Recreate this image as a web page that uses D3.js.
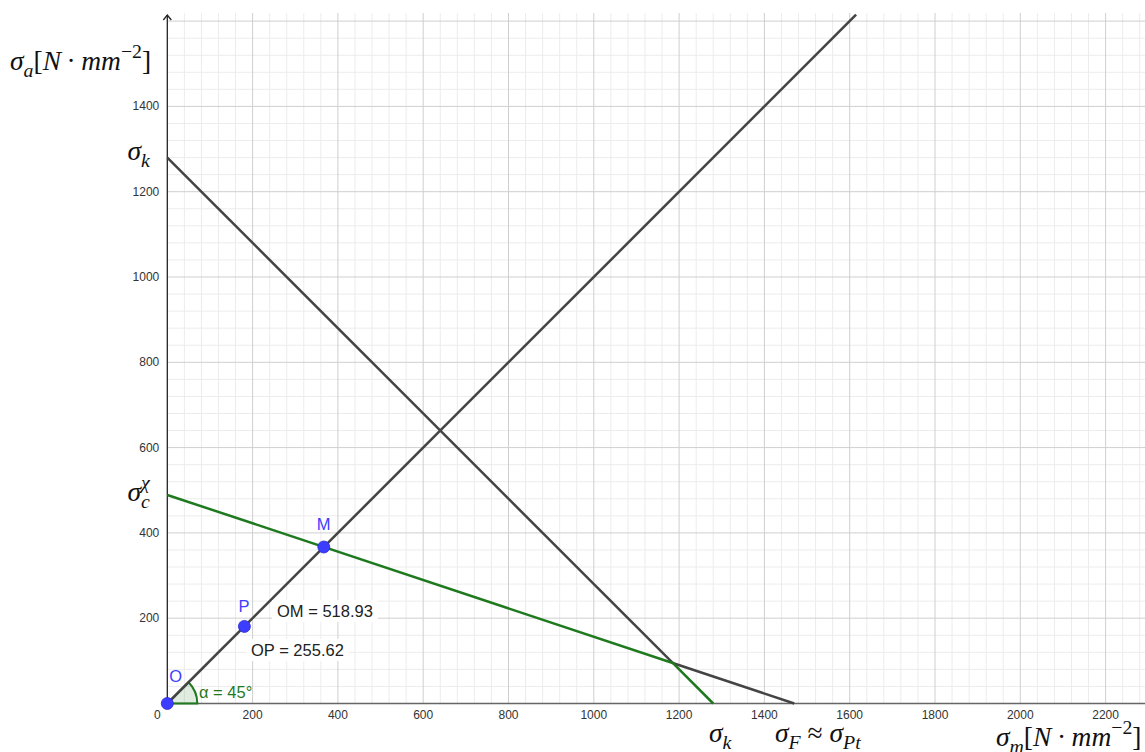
<!DOCTYPE html>
<html>
<head>
<meta charset="utf-8">
<script src="https://cdn.jsdelivr.net/npm/d3@7"></script>
<style>
  html, body { margin: 0; padding: 0; background: #fff; }
  svg { display: block; }
</style>
</head>
<body>
<div id="chart"></div>
<script>
// values
var xTicks = [200, 400, 600, 800, 1000, 1200, 1400, 1600, 1800, 2000, 2200];
var yTicks = [200, 400, 600, 800, 1000, 1200, 1400];
var diagonal = [[0, 0], [1615, 1615]];
var sigmaKLine = [[0, 1280], [1185, 95]];
var sigmaFLine = [[1185, 95], [1470, 0]];
var greenLine = [[0, 489], [1185, 95], [1280, 0]];
var points = [
    {name: "O", x: 0, y: 0},
    {name: "P", x: 180.75, y: 180.75},
    {name: "M", x: 366.94, y: 366.94}
];
var lengthLabels = ["OM = 518.93", "OP = 255.62"];
var angleLabel = "α = 45°";

function init(){
    var w = 1145;
    var h = 752;
    var k = 0.4265;      // px per unit
    var ox = 167.3, oy = 703.5;
    var topY = 13;

    var xScale = d3.scaleLinear()
                    .domain([-ox / k, (w - ox) / k])
                    .range([0, w]);
    var yScale = d3.scaleLinear()
                    .domain([-(h - oy) / k, oy / k])
                    .range([h, 0]);

    var svg = d3.select("#chart")
            .append("svg")
            .attr("width", w)
            .attr("height", h);

    var xMax = xScale.invert(w), yMax = yScale.invert(topY);

    // minor grid
    var minorX = d3.range(40, xMax, 40).filter(function(v){ return v % 200 !== 0; });
    var minorY = d3.range(40, yMax, 40).filter(function(v){ return v % 200 !== 0; });
    var majorX = d3.range(200, xMax, 200);
    var majorY = d3.range(200, yMax, 200);

    var grid = svg.append("g").attr("class", "grid");
    grid.selectAll(".vminor").data(minorX).enter().append("line")
        .attr("x1", function(d){ return xScale(d); }).attr("x2", function(d){ return xScale(d); })
        .attr("y1", topY).attr("y2", yScale(0))
        .attr("stroke", "#ececec").attr("stroke-width", 1);
    grid.selectAll(".hminor").data(minorY).enter().append("line")
        .attr("y1", function(d){ return yScale(d); }).attr("y2", function(d){ return yScale(d); })
        .attr("x1", xScale(0)).attr("x2", w)
        .attr("stroke", "#ececec").attr("stroke-width", 1);
    grid.selectAll(".vmajor").data(majorX).enter().append("line")
        .attr("x1", function(d){ return xScale(d); }).attr("x2", function(d){ return xScale(d); })
        .attr("y1", topY).attr("y2", yScale(0))
        .attr("stroke", "#cfcfcf").attr("stroke-width", 1);
    grid.selectAll(".hmajor").data(majorY).enter().append("line")
        .attr("y1", function(d){ return yScale(d); }).attr("y2", function(d){ return yScale(d); })
        .attr("x1", xScale(0)).attr("x2", w)
        .attr("stroke", "#cfcfcf").attr("stroke-width", 1);

    // axes
    svg.append("line")
        .attr("x1", xScale(0)).attr("x2", w)
        .attr("y1", yScale(0)).attr("y2", yScale(0))
        .attr("stroke", "#666").attr("stroke-width", 1.5);
    svg.append("line")
        .attr("x1", xScale(0)).attr("x2", xScale(0))
        .attr("y1", yScale(0)).attr("y2", 15)
        .attr("stroke", "#222").attr("stroke-width", 1.3);
    svg.append("path")
        .attr("d", "M" + (xScale(0) - 4) + ",20 L" + xScale(0) + ",15 L" + (xScale(0) + 4) + ",20")
        .attr("fill", "none").attr("stroke", "#222").attr("stroke-width", 1.3);

    // tick labels
    svg.selectAll(".xlab").data(xTicks).enter().append("text")
        .attr("x", function(d){ return xScale(d); })
        .attr("y", yScale(0) + 15)
        .attr("text-anchor", "middle")
        .attr("font-family", "Liberation Sans, Arial, sans-serif")
        .attr("font-size", "12px")
        .attr("fill", "#333")
        .text(function(d){ return d; });
    svg.append("text")
        .attr("x", xScale(0) - 10).attr("y", yScale(0) + 15)
        .attr("text-anchor", "middle")
        .attr("font-family", "Liberation Sans, Arial, sans-serif")
        .attr("font-size", "12px").attr("fill", "#333")
        .text("0");
    svg.selectAll(".ylab").data(yTicks).enter().append("text")
        .attr("x", xScale(0) - 8)
        .attr("y", function(d){ return yScale(d) + 4; })
        .attr("text-anchor", "end")
        .attr("font-family", "Liberation Sans, Arial, sans-serif")
        .attr("font-size", "12px")
        .attr("fill", "#333")
        .text(function(d){ return d; });

    // angle sector at O
    var r = 30;
    var cx = xScale(0), cy = yScale(0);
    var arc = d3.arc().innerRadius(0).outerRadius(r).startAngle(Math.PI / 4).endAngle(Math.PI / 2);
    svg.append("path")
        .attr("transform", "translate(" + cx + "," + cy + ")")
        .attr("d", arc)
        .attr("fill", "rgba(0,100,0,0.12)")
        .attr("stroke", "#1f7a1f")
        .attr("stroke-width", 2);

    var line = d3.line()
                .x(function(d){ return xScale(d[0]); })
                .y(function(d){ return yScale(d[1]); });

    svg.append("path").datum(diagonal).attr("d", line)
        .attr("fill", "none").attr("stroke", "#444").attr("stroke-width", 2.5);
    svg.append("path").datum(sigmaKLine).attr("d", line)
        .attr("fill", "none").attr("stroke", "#444").attr("stroke-width", 2.5);
    svg.append("path").datum(sigmaFLine).attr("d", line)
        .attr("fill", "none").attr("stroke", "#444").attr("stroke-width", 2.5);
    svg.append("path").datum(greenLine).attr("d", line)
        .attr("fill", "none").attr("stroke", "#1f7a1f").attr("stroke-width", 2.5)
        .attr("stroke-linejoin", "round");

    // length labels with white background
    function boxLabel(txt, x, y){
        var g = svg.append("g");
        var t = g.append("text")
            .attr("x", x).attr("y", y)
            .attr("font-family", "Liberation Sans, Arial, sans-serif")
            .attr("font-size", "16.5px")
            .attr("fill", "#222")
            .text(txt);
        var b = t.node().getBBox();
        g.insert("rect", "text")
            .attr("x", b.x - 5).attr("y", b.y - 2)
            .attr("width", b.width + 10).attr("height", b.height + 4)
            .attr("fill", "#fff");
    }
    boxLabel(lengthLabels[0], 277, 617);
    boxLabel(lengthLabels[1], 251, 656);

    svg.append("text")
        .attr("x", 199).attr("y", 698)
        .attr("font-family", "Liberation Sans, Arial, sans-serif")
        .attr("font-size", "16.5px")
        .attr("fill", "#1f7a1f")
        .text(angleLabel);

    // points
    svg.selectAll(".pt").data(points).enter().append("circle")
        .attr("cx", function(d){ return xScale(d.x); })
        .attr("cy", function(d){ return yScale(d.y); })
        .attr("r", 6)
        .attr("fill", "#3d3dff")
        .attr("stroke", "#2a2ad0")
        .attr("stroke-width", 0.8);
    var labelOff = {O: [2, -22], P: [-6, -14], M: [-7, -17]};
    svg.selectAll(".ptl").data(points).enter().append("text")
        .attr("x", function(d){ return xScale(d.x) + labelOff[d.name][0]; })
        .attr("y", function(d){ return yScale(d.y) + labelOff[d.name][1]; })
        .attr("font-family", "Liberation Sans, Arial, sans-serif")
        .attr("font-size", "16.5px")
        .attr("fill", "#3d3dff")
        .text(function(d){ return d.name; });

    // math labels
    function mathText(x, y, size, parts, anchor){
        var t = svg.append("text")
            .attr("x", 0).attr("y", 0)
            .attr("font-family", "Liberation Serif, DejaVu Serif, serif")
            .attr("font-size", size + "px")
            .attr("fill", "#111");
        var cur = 0, mark = 0;
        parts.forEach(function(p){
            var off = p.sub ? size * 0.25 : (p.sup ? -size * 0.42 : 0);
            if (p.mark) mark = t.node().getComputedTextLength();
            var ts = t.append("tspan")
                .attr("font-style", p.r ? "normal" : "italic")
                .attr("dy", off - cur)
                .text(p.t);
            if (p.back) ts.attr("x", mark);
            if (p.sub || p.sup) ts.attr("font-size", (size * 0.72) + "px");
            cur = off;
        });
        var bw = t.node().getBBox().width;
        var dx = anchor === "end" ? x - bw : (anchor === "middle" ? x - bw / 2 : x);
        t.attr("transform", "translate(" + dx + "," + y + ")");
    }
    var unit = [
        {t: "[", r: true}, {t: "N"}, {t: "\u2009·\u2009", r: true}, {t: "mm"},
        {t: "−2", r: true, sup: true}, {t: "]", r: true}
    ];
    mathText(10, 70, 27.5, [{t: "σ"}, {t: "a", sub: true}].concat(unit), "start");
    mathText(151, 160, 27.5, [{t: "σ"}, {t: "k", sub: true}], "end");
    mathText(151, 501, 27.5, [{t: "σ"}, {t: "c", sub: true, mark: true}, {t: "χ", sup: true, back: true}], "end");
    mathText(709, 742, 27.5, [{t: "σ"}, {t: "k", sub: true}], "start");
    mathText(775, 742, 27.5, [{t: "σ"}, {t: "F", sub: true}, {t: " ≈ ", r: true}, {t: "σ"}, {t: "Pt", sub: true}], "start");
    mathText(996, 746, 27.5, [{t: "σ"}, {t: "m", sub: true}].concat(unit), "start");
}
window.onload = init;
</script>
</body>
</html>
